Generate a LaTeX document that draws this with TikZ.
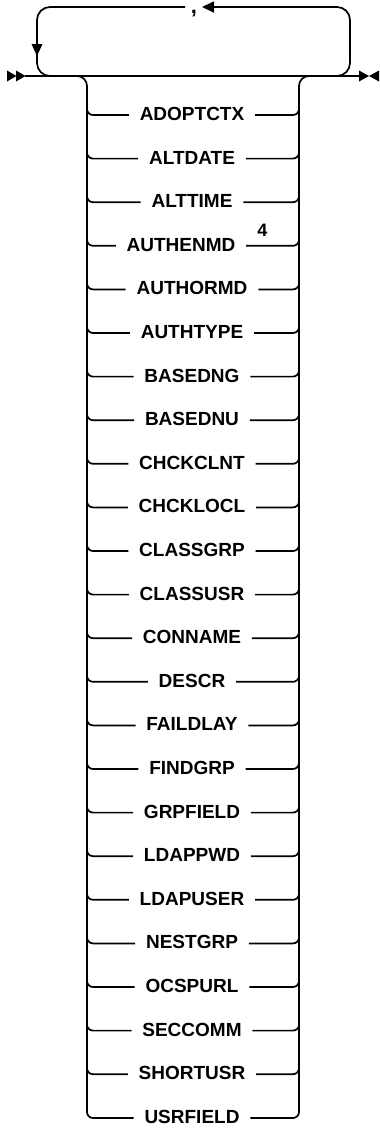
\documentclass[tikz,border=0pt]{standalone}
\usepackage{fontspec}
\setmainfont{Liberation Sans}
\newfontfamily\kwfont{Liberation Sans Bold}
\usetikzlibrary{arrows.meta}
\begin{document}
\begin{tikzpicture}[x=1pt,y=-1pt,line width=1.7pt,
  kw/.style={font=\kwfont\fontsize{19}{22}\selectfont, inner xsep=10pt, inner ysep=0pt, anchor=center},
  fnote/.style={font=\kwfont\fontsize{18}{20}\selectfont, inner sep=0pt, anchor=base},
  tip/.style={fill=black, draw=none}]
\useasboundingbox (0,0) rectangle (380,1128);
% start and end marks
\fill[tip] (7,70.5) -- (16.5,76) -- (7,81.5) -- cycle;
\fill[tip] (16,70.5) -- (25.5,76) -- (16,81.5) -- cycle;
\fill[tip] (359,70.5) -- (369,76) -- (359,81.5) -- cycle;
\fill[tip] (379,70.5) -- (369,76) -- (379,81.5) -- cycle;
\coordinate (start) at (25,76);
\coordinate (end) at (360,76);
\draw (start) -- (end);
% repeat loop
\node[font=\kwfont\fontsize{22}{24}\selectfont, inner sep=0pt, anchor=base] (comma) at (194,13) {,};
\coordinate (cl) at (185,7);
\coordinate (cr) at (202,7);
\draw[rounded corners=13, -{Triangle[length=12pt,width=11pt]}] (320,76) -| (350,7) -- (cr);
\draw[rounded corners=13] (cl) -| (37,76) -- (60,76);
\fill[tip] (37,56) -- (31.5,44) -- (42.5,44) -- cycle;
% keywords
\foreach \w/\dx [count=\i from 0] in {ADOPTCTX/0,ALTDATE/0,ALTTIME/0,AUTHENMD/-11,AUTHORMD/0,AUTHTYPE/0,BASEDNG/0,BASEDNU/0,CHCKCLNT/0,CHCKLOCL/0,CLASSGRP/0,CLASSUSR/0,CONNAME/0,DESCR/0,FAILDLAY/0,FINDGRP/0,GRPFIELD/0,LDAPPWD/0,LDAPUSER/0,NESTGRP/0,OCSPURL/0,SECCOMM/0,SHORTUSR/0,USRFIELD/0}{
  \pgfmathsetmacro\yy{115+43.6*\i}
  \node[kw] (k\i) at (192+\dx,\yy-1) {\w};
  \ifnum\i<23
    \draw[rounded corners=6] (87,\yy-12) |- (87,\yy) -- (k\i.west |- 0,\yy);
    \draw[rounded corners=6] (k\i.east |- 0,\yy) -- (299,\yy) -| (299,\yy-12);
  \fi
}
\node[fnote] (fn) at (262.5,236) {4};
% rails
\draw (70,76) [rounded corners=10] -| (87,600) [rounded corners=6] |- (k23.west |- 0,1118);
\draw (k23.east |- 0,1118) [rounded corners=6] -| (299,600) [rounded corners=10] |- (312,76);
\end{tikzpicture}
\end{document}
